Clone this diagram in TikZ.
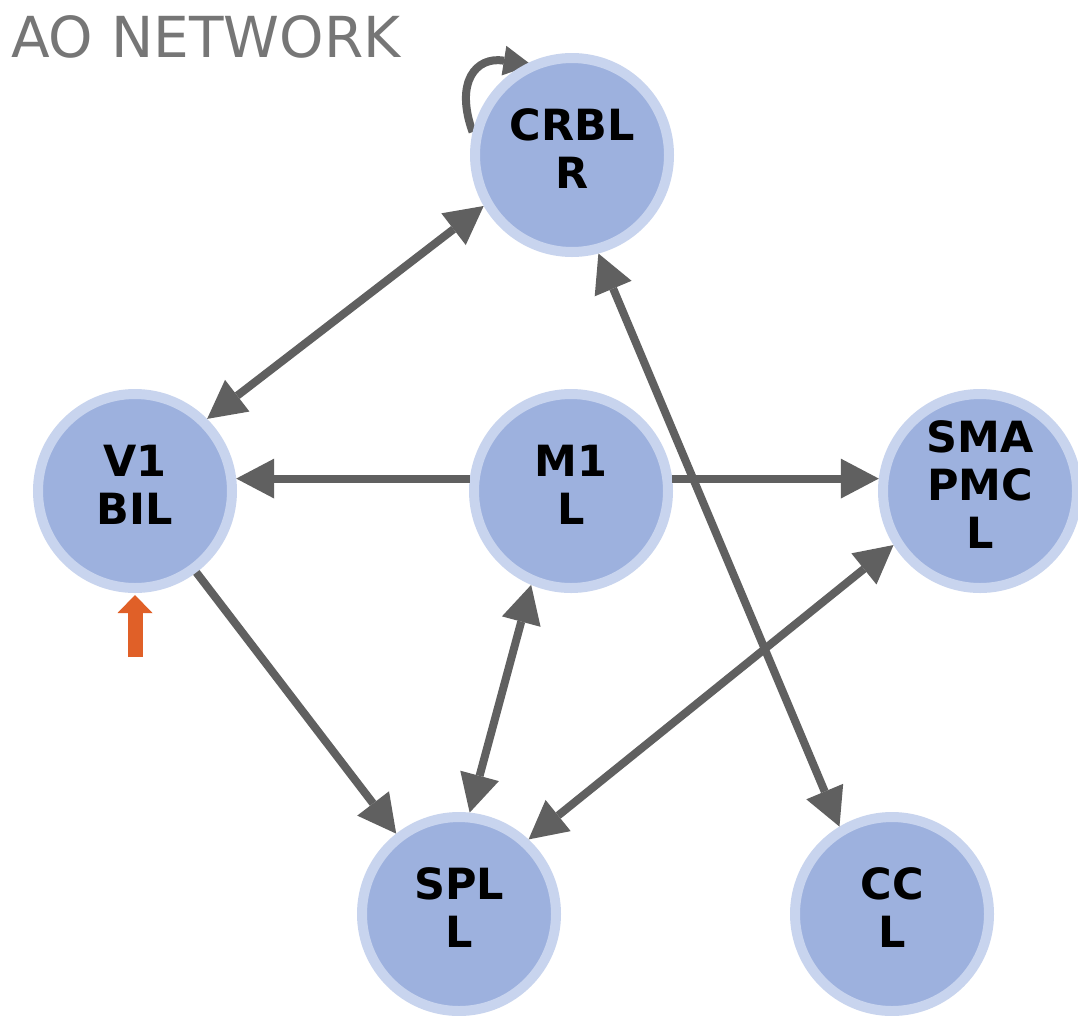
\documentclass[tikz,border=0pt]{standalone}
\usepackage{fontspec}
\setmainfont{DejaVu Sans}
\usetikzlibrary{arrows.meta,backgrounds}
\definecolor{ringc}{RGB}{200,212,238}
\definecolor{innerc}{RGB}{157,177,222}
\definecolor{edgec}{RGB}{96,96,96}
\definecolor{titlec}{RGB}{118,118,118}
\definecolor{stimc}{RGB}{224,96,40}
\newcommand{\nlab}[1]{\begin{tabular}{@{}c@{}}#1\end{tabular}}
\tikzset{
  bigtip/.tip={Triangle[length=38pt,width=40pt,line width=0pt]},
  looptip/.tip={Triangle[length=28pt,width=30pt,line width=0pt]},
  region/.style={circle, draw=ringc, line width=10pt, fill=innerc,
    minimum size=194pt, inner sep=0pt, outer sep=5pt,
    font=\bfseries\fontsize{43}{48}\selectfont, text=black},
  link/.style={draw=edgec, line width=8pt, -bigtip},
  dlink/.style={draw=edgec, line width=8pt, bigtip-bigtip},
  selflink/.style={draw=edgec, line width=8pt, -looptip},
  stimarrow/.style={draw=stimc, line width=15pt, -{Triangle[length=18pt,width=35pt,line width=0pt]}},
}
\begin{document}
\begin{tikzpicture}[x=1pt,y=1pt]
\useasboundingbox (0,-1015) rectangle (1078,0);
\begin{scope}[on background layer]
\fill[white] (0,-1015) rectangle (1078,0);
\end{scope}

\node[anchor=base west, inner sep=0pt, text=titlec,
      font=\fontsize{56.5}{60}\selectfont] (title) at (11,-57) {AO NETWORK};

\node[region] (crbl) at (572,-155) {\nlab{CRBL\\R}};
\node[region] (v1)   at (135,-491) {\nlab{V1\\BIL}};
\node[region] (m1)   at (571,-491) {\nlab{M1\\L}};
\node[region] (sma)  at (980,-491) {\nlab{SMA\\PMC\\L}};
\node[region] (spl)  at (459,-914) {\nlab{SPL\\L}};
\node[region] (cc)   at (892,-914) {\nlab{CC\\L}};

\begin{scope}[on background layer]
\draw[selflink, shorten >=-6pt] (crbl.167) .. controls +(-18,50) and +(-50,8) .. (crbl.117);
\end{scope}

\draw[dlink] (crbl.210) -- (v1.45);
\draw[link] (m1.173) -- (v1.7);
\draw[link] (m1.7) -- (sma.173);
\draw[link] (v1.307) -- (spl.128);
\draw[dlink] (m1.247) -- (spl.84);
\draw[dlink] (sma.212) -- (spl.47);
\draw[dlink] (crbl.285) -- (cc.121);

\coordinate (stim) at (135,-657);
\draw[stimarrow, shorten >=2pt] (stim) -- (v1.270);
\end{tikzpicture}
\end{document}
